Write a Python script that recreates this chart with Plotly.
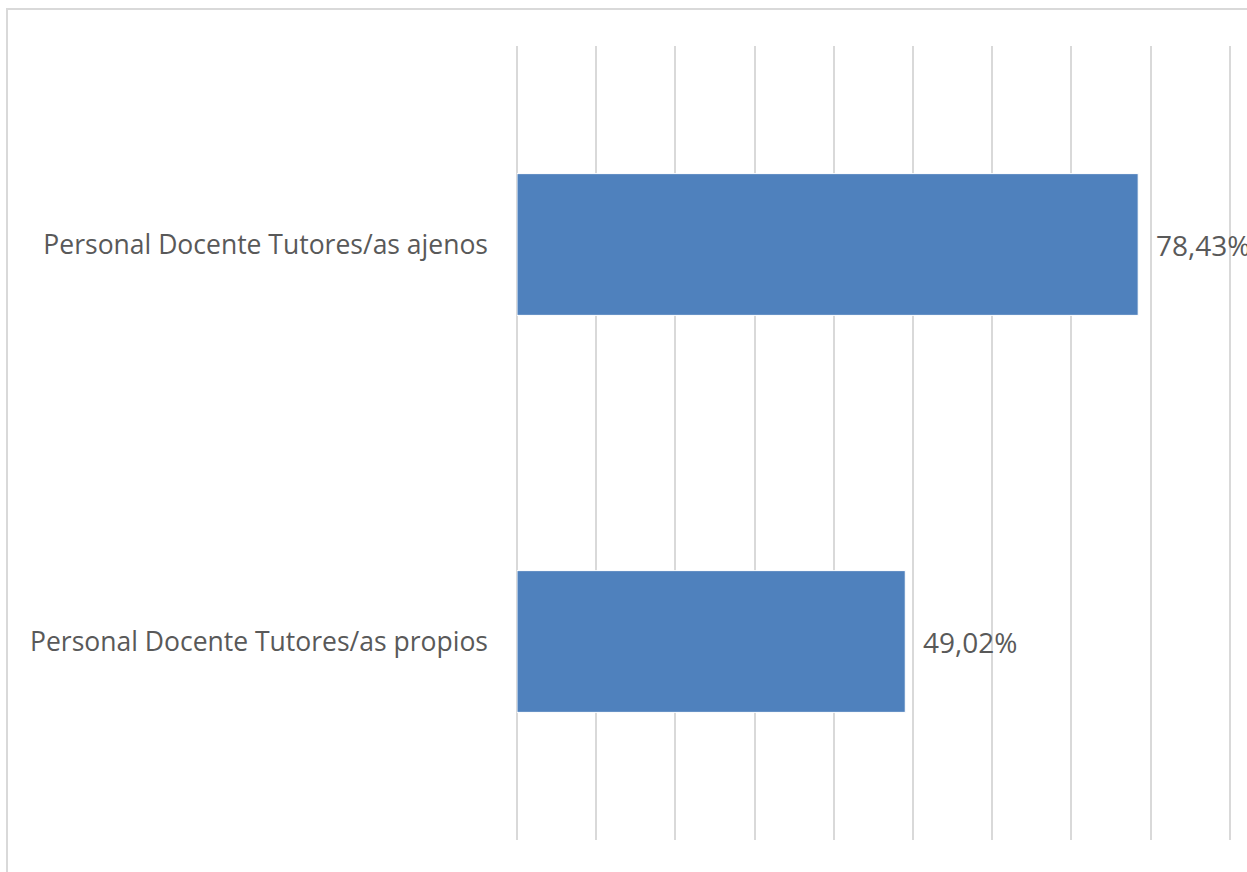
import plotly.graph_objects as go

categories = ["Personal Docente Tutores/as propios", "Personal Docente Tutores/as ajenos"]
values = [49.02, 78.43]
value_labels = ["49,02%", "78,43%"]

W, H = 1247, 872
left, right, top, bottom = 517, 0, 46, 32
x_max = 92.17
FONT = "Open Sans, Liberation Sans, sans-serif"

fig = go.Figure()
fig.add_trace(go.Bar(
    y=categories,
    x=values,
    orientation="h",
    marker=dict(color="#4f81bd", line=dict(color="#ffffff", width=1)),
    width=0.357,
    hoverinfo="skip",
))

for c, v, t in zip(categories, values, value_labels):
    fig.add_annotation(
        x=v, y=c, text=t, showarrow=False, xanchor="left", xshift=16,
        font=dict(family=FONT, size=28, color="#595959"),
    )

plot_w = W - left - right
plot_h = H - top - bottom
# outer chart frame (extends past the right/bottom edges of the page)
fig.add_shape(
    type="rect", xref="paper", yref="paper",
    x0=(7 - left) / plot_w, x1=(W + 40 - left) / plot_w,
    y0=(H - bottom - (H + 40)) / plot_h, y1=(H - bottom - 9) / plot_h,
    line=dict(color="#d9d9d9", width=2), layer="below",
)

fig.update_layout(
    width=W, height=H,
    margin=dict(l=left, r=right, t=top, b=bottom),
    paper_bgcolor="white", plot_bgcolor="white",
    showlegend=False,
    xaxis=dict(
        range=[0, x_max], dtick=10, tick0=0,
        showgrid=True, gridcolor="#d9d9d9", gridwidth=1.5,
        showticklabels=False, zeroline=True, zerolinecolor="#d9d9d9", zerolinewidth=1.5,
        showline=False, fixedrange=True,
    ),
    yaxis=dict(
        showgrid=False, showline=False, zeroline=False,
        ticklabelstandoff=28,
        tickfont=dict(family=FONT, size=26.5, color="#595959"),
        fixedrange=True,
    ),
)

fig.write_html("out.html")
